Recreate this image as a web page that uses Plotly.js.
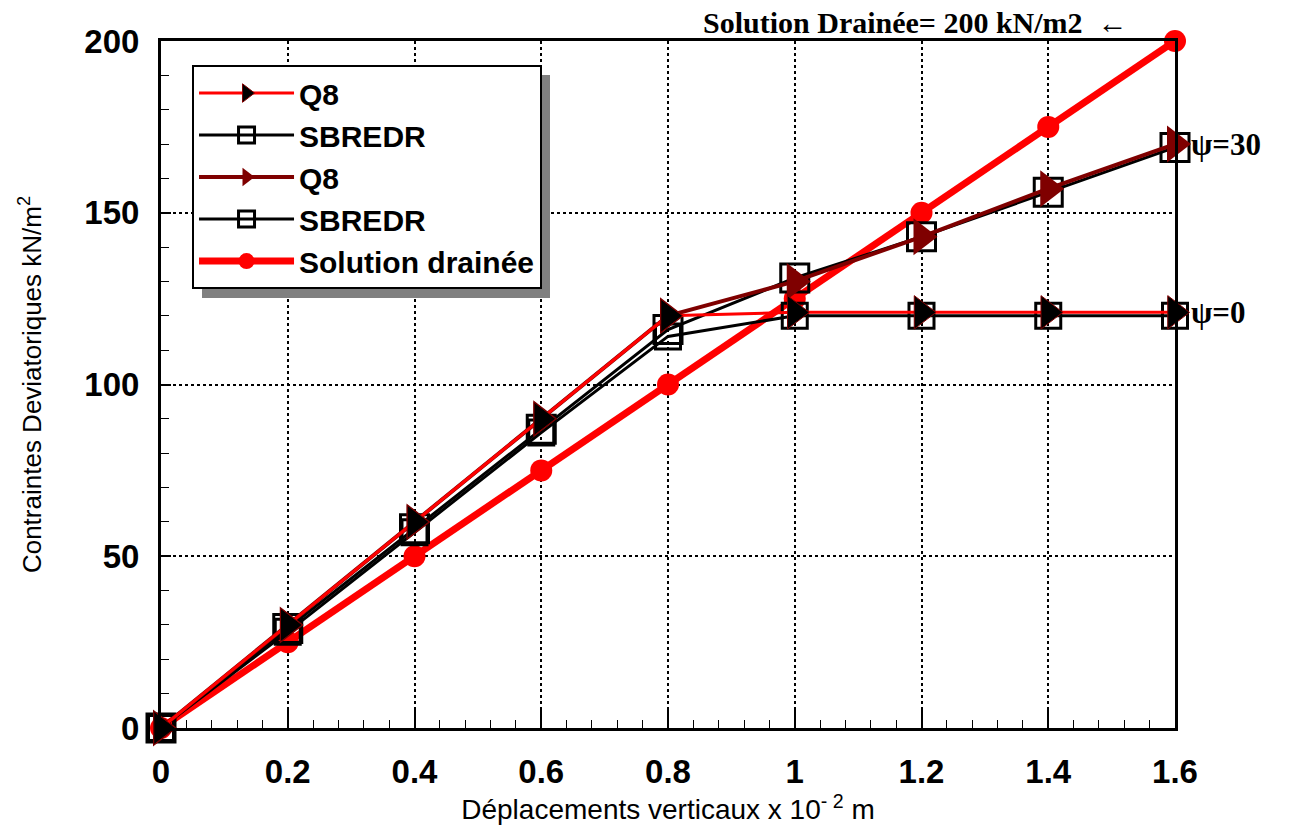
<!DOCTYPE html>
<html>
<head>
<meta charset="utf-8">
<script src="https://cdn.plot.ly/plotly-3.0.1.min.js"></script>
<style>html,body{margin:0;padding:0;background:#fff;}#chart{width:1290px;height:826px;}</style>
</head>
<body>
<div id="chart"></div>
<script>
// Data
const deplacements = [0, 0.2, 0.4, 0.6, 0.8, 1.0, 1.2, 1.4, 1.6];
const q8Psi0      = [0, 30, 60, 90, 120, 121, 121, 121, 121];
const sbredrPsi0  = [0, 28, 57, 86, 114, 120, 120, 120, 120];
const q8Psi30     = [0, 30, 60, 90, 120, 130, 143, 157, 170];
const sbredrPsi30 = [0, 29, 58, 87, 116, 131, 143, 156, 169];
const solutionDrainee = [0, 25, 50, 75, 100, 125, 150, 175, 200];
const seriesNames = ['Q8', 'SBREDR', 'Q8', 'SBREDR', 'Solution drainée'];
const xTicks = [0, 0.2, 0.4, 0.6, 0.8, 1, 1.2, 1.4, 1.6];
const xTickText = ['0', '0.2', '0.4', '0.6', '0.8', '1', '1.2', '1.4', '1.6'];
const yTicks = [0, 50, 100, 150, 200];

const FONT = 'Liberation Sans, Arial, sans-serif';
const SERIF = 'Liberation Serif, Times New Roman, serif';

const traces = [
  {x: deplacements, y: solutionDrainee, name: seriesNames[4], legendrank: 5, mode: 'lines+markers',
   line: {color: '#ff0000', width: 7}, marker: {symbol: 'circle', size: 22, color: '#ff0000'}, cliponaxis: false},
  {x: deplacements, y: sbredrPsi30, name: seriesNames[3], legendrank: 4, mode: 'lines+markers',
   line: {color: '#000000', width: 3}, marker: {symbol: 'square-open', size: 28, color: '#000000', line: {width: 3}}, cliponaxis: false},
  {x: deplacements, y: sbredrPsi0, name: seriesNames[1], legendrank: 2, mode: 'lines+markers',
   line: {color: '#000000', width: 3}, marker: {symbol: 'square-open', size: 25, color: '#000000', line: {width: 3}}, cliponaxis: false},
  {x: deplacements, y: q8Psi30, name: seriesNames[2], legendrank: 3, mode: 'lines+markers',
   line: {color: '#7f0000', width: 4}, marker: {symbol: 'triangle-right', size: 32, color: '#7f0000'}, cliponaxis: false},
  {x: deplacements, y: q8Psi0, name: seriesNames[0], legendrank: 1, mode: 'lines+markers',
   line: {color: '#ff0000', width: 3}, marker: {symbol: 'triangle-right', size: 29, color: '#000000', line: {width: 1, color: '#7f0000'}}, cliponaxis: false}
];

const layout = {
  width: 1290, height: 826,
  paper_bgcolor: '#ffffff', plot_bgcolor: '#ffffff',
  margin: {l: 161, r: 115, t: 41, b: 98},
  font: {family: FONT, color: '#000000'},
  showlegend: true,
  legend: {
    x: 0.0306, y: 0.965, xanchor: 'left', yanchor: 'top',
    bgcolor: '#ffffff', bordercolor: '#000000', borderwidth: 2,
    font: {family: FONT, size: 30, color: '#000000', weight: 'bold'},
    itemwidth: 95, tracegroupgap: 0
  },
  xaxis: {
    range: [0, 1.6], tickvals: xTicks, ticktext: xTickText,
    showline: true, linecolor: '#000000', linewidth: 3, mirror: true,
    ticks: 'inside', ticklen: 18, tickwidth: 2, tickcolor: '#000000',
    minor: {dtick: 0.04, ticks: 'inside', ticklen: 8, tickwidth: 1, tickcolor: '#000000', showgrid: false},
    showgrid: true, gridcolor: '#000000', gridwidth: 2, griddash: 'dot',
    zeroline: false, ticklabelstandoff: 12,
    tickfont: {family: FONT, size: 33, color: '#000000', weight: 'bold'},
    title: {text: 'Déplacements verticaux x 10<sup>- 2</sup> m', font: {family: FONT, size: 28, color: '#000000'}, standoff: 10}
  },
  yaxis: {
    range: [0, 200], tickvals: yTicks,
    showline: true, linecolor: '#000000', linewidth: 3, mirror: true,
    ticks: 'inside', ticklen: 10, tickwidth: 2, tickcolor: '#000000',
    minor: {dtick: 10, ticks: 'inside', ticklen: 8, tickwidth: 1, tickcolor: '#000000', showgrid: false},
    showgrid: true, gridcolor: '#000000', gridwidth: 2, griddash: 'dot',
    zeroline: false, ticklabelstandoff: 12,
    tickfont: {family: FONT, size: 33, color: '#000000', weight: 'bold'},
    title: {text: 'Contraintes Deviatoriques kN/m<sup>2</sup>', font: {family: FONT, size: 26, color: '#000000'}, standoff: 36}
  },
  shapes: [
    {type: 'rect', xref: 'paper', yref: 'paper', layer: 'above',
     x0: (202 - 161) / 1014, x1: (550 - 161) / 1014, y0: (728 - 298) / 687, y1: (728 - 75) / 687,
     fillcolor: '#808080', line: {width: 0}}
  ],
  annotations: [
    {x: 1.6, y: 200, xref: 'x', yref: 'y', text: 'Solution Drainée= 200 kN/m2 &nbsp;←', showarrow: false,
     xanchor: 'right', yanchor: 'middle', xshift: -45, yshift: 19,
     font: {family: SERIF, size: 30, color: '#000000', weight: 'bold'}},
    {x: 1.6, y: 170, xref: 'x', yref: 'y', text: 'ψ=30', showarrow: false,
     xanchor: 'left', yanchor: 'middle', xshift: 14,
     font: {family: SERIF, size: 31, color: '#000000', weight: 'bold'}},
    {x: 1.6, y: 121, xref: 'x', yref: 'y', text: 'ψ=0', showarrow: false,
     xanchor: 'left', yanchor: 'middle', xshift: 14,
     font: {family: SERIF, size: 31, color: '#000000', weight: 'bold'}}
  ]
};

Plotly.newPlot('chart', traces, layout, {displayModeBar: false, staticPlot: true});
</script>
</body>
</html>
